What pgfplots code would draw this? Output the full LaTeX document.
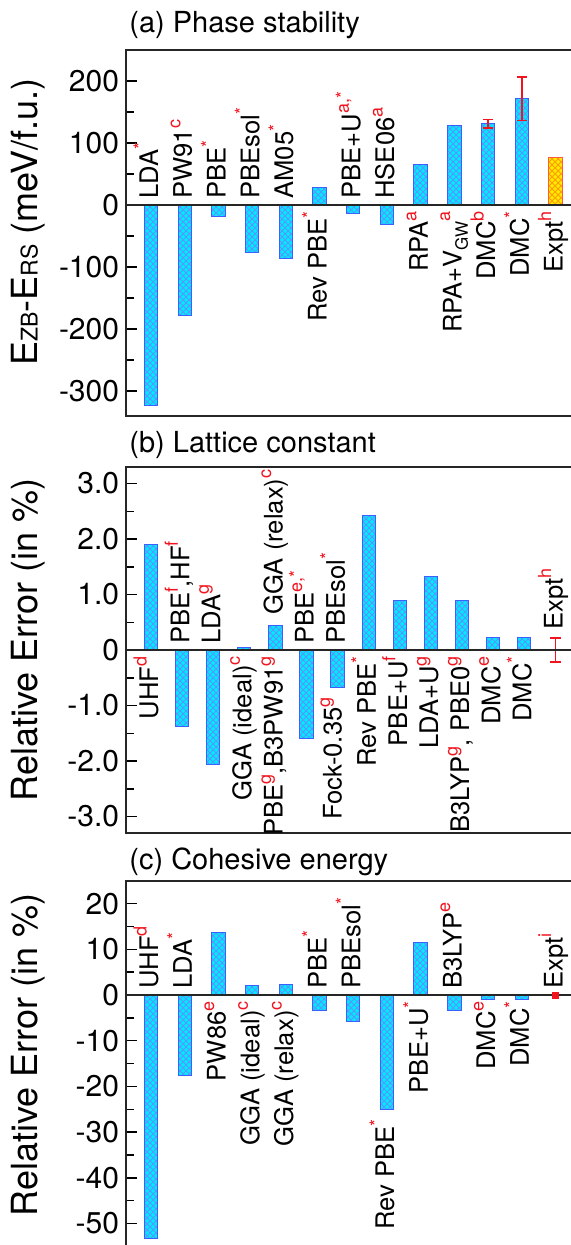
\documentclass[border=0pt]{standalone}
\usepackage{fontspec}
\setmainfont{TeX Gyre Heros}
\usepackage{pgfplots}
\pgfplotsset{compat=1.18}
\usetikzlibrary{patterns}
\definecolor{barcyan}{RGB}{0,235,255}
\definecolor{barblue}{RGB}{60,95,255}
\definecolor{hatch}{RGB}{85,150,255}
\definecolor{yel}{RGB}{255,235,0}
\definecolor{yelhatch}{RGB}{255,155,0}
\definecolor{yeledge}{RGB}{255,90,60}
\definecolor{sred}{RGB}{240,20,30}
\newcommand{\rs}[1]{\raisebox{0.45em}{\fontsize{9}{9}\selectfont\textcolor{sred}{#1}}}
\newcommand{\sub}[1]{\raisebox{-0.25em}{\fontsize{8.5}{8.5}\selectfont #1}}
\pgfplotsset{
  panel/.style={
    scale only axis, anchor=north west, clip=false,
    axis line style={line width=0.8pt, black!85},
    xtick=\empty, ytick pos=left, tick align=inside,
    major tick length=5.5pt, minor tick length=4pt,
    tick style={line width=0.7pt, black},
    /pgf/number format/assume math mode=true,
    tick label style={font=\fontsize{15}{15}\selectfont},
  },
  bars/.style={ybar, bar width=6.7pt, bar shift=0pt, fill=barcyan, draw=barblue, line width=0.5pt,
    postaction={pattern=crosshatch, pattern color=hatch}},
  ebar/.style={draw=sred, line width=0.8pt, mark=-, mark size=2.6pt, mark options={solid, draw=sred, line width=0.8pt}, forget plot},
  zline/.style={black!85, line width=0.7pt, mark=none, forget plot},
}
\tikzset{lab/.style={font=\fontsize{12.8}{12.8}\selectfont, rotate=90, inner xsep=3pt, inner ysep=0pt, text height=0.72em, text depth=0pt},
  ttl/.style={anchor=west, font=\fontsize{14.5}{14.5}\selectfont, inner sep=0pt},
  ylab/.style={rotate=90, anchor=center, font=\fontsize{18}{18}\selectfont}}
\newcommand{\up}[3][0]{\node[lab, anchor=west] at (axis cs:#2,#1) {#3};}
\newcommand{\dn}[3][0]{\node[lab, anchor=east] at (axis cs:#2,#1) {#3};}
\begin{document}
\begin{tikzpicture}
\path[use as bounding box] (0,0) rectangle (285.5pt,-622.5pt);
\clip (0,0) rectangle (285.5pt,-622.5pt);
\node[ttl] at (64.5pt,-12.5pt) {(a) Phase stability};
\node[ttl] at (64.5pt,-222.5pt) {(b) Lattice constant};
\node[ttl] at (64.5pt,-431pt) {(c) Cohesive energy};
% ---------- panel (a)
\begin{axis}[panel, at={(63.05pt,-25pt)}, width=226.45pt, height=182.9pt,
  xmin=-0.74, xmax=12.7, ymin=-340, ymax=250,
  ytick={-300,-200,-100,0,100,200}, minor y tick num=1,
  ylabel={E{\fontsize{11.5}{11.5}\selectfont ZB}-E{\fontsize{11.5}{11.5}\selectfont RS} (meV/f.u.)},
  every axis y label/.style={at={(axis description cs:-0.216,0.53)}, ylab}]
\addplot[bars] coordinates {(0,-323) (1,-179) (2,-19) (3,-77) (4,-87) (5,28) (6,-14) (7,-31) (8,66) (9,129) (10,131) (11,171)};
\addplot[ybar, bar width=6.7pt, bar shift=0pt, fill=yel, draw=yeledge, line width=0.5pt,
  postaction={pattern=crosshatch, pattern color=yelhatch}] coordinates {(12,77)};
\addplot[ebar] coordinates {(10,124) (10,138)};
\addplot[ebar] coordinates {(11,136) (11,206)};
\addplot[zline] coordinates {(-0.74,0) (12.7,0)};
\up{0}{LDA\rs{*}}
\up{1}{PW91\rs{c}}
\up{2}{PBE\rs{*}}
\up{3}{PBEsol\rs{*}}
\up{4}{AM05\rs{*}}
\dn{5}{Rev PBE\rs{*}}
\up{6}{PBE+U\rs{a,*}}
\up{7}{HSE06\rs{a}}
\dn{8}{RPA\rs{a}}
\dn{9}{RPA+V\sub{GW}\rs{a}}
\dn{10}{DMC\rs{b}}
\dn{11}{DMC\rs{*}}
\dn{12}{Expt\rs{h}}
\end{axis}
% ---------- panel (b)
\begin{axis}[panel, at={(63.05pt,-233.45pt)}, width=227.05pt, height=183.15pt,
  xmin=-0.8, xmax=13.8, ymin=-3.3, ymax=3.3,
  ytick={-3,-2,-1,0,1,2,3}, yticklabels={-3.0,-2.0,-1.0,0,1.0,2.0,3.0}, minor y tick num=1,
  ylabel={Relative Error (in \%)},
  every axis y label/.style={at={(axis description cs:-0.216,0.527)}, ylab}]
\addplot[bars] coordinates {(0,1.9) (1,-1.38) (2,-2.06) (3,0.05) (4,0.45) (5,-1.6) (6,-0.68) (7,2.42) (8,0.9) (9,1.33) (10,0.9) (11,0.22) (12,0.22)};
\addplot[ebar] coordinates {(13,-0.22) (13,0.22)};
\addplot[zline] coordinates {(-0.8,0) (13.8,0)};
\dn{0}{UHF\rs{d}}
\up{1}{PBE\rs{f},HF\rs{f}}
\up{2}{LDA\rs{g}}
\dn{3}{GGA (ideal)\rs{c}}
\up[0.52]{4}{GGA (relax)\rs{c}}
\dn{4}{PBE\rs{g},B3PW91\rs{g}}
\up{5}{PBE\rs{e,*}}
\up{6}{PBEsol\rs{*}}
\dn[-0.74]{5.9}{Fock-0.35\rs{g}}
\dn{7}{Rev PBE\rs{*}}
\dn{8}{PBE+U\rs{f}}
\dn{9}{LDA+U\rs{g}}
\dn{10}{B3LYP\rs{g}, PBE0\rs{g}}
\dn{11}{DMC\rs{e}}
\dn{12}{DMC\rs{*}}
\up[0.26]{13}{Expt\rs{h}}
\end{axis}
% ---------- panel (c)
\begin{axis}[panel, at={(63.05pt,-440.4pt)}, width=226.45pt, height=187.35pt,
  xmin=-0.74, xmax=12.7, ymin=-57, ymax=25,
  ytick={-50,-40,-30,-20,-10,0,10,20}, minor y tick num=1,
  ylabel={Relative Error (in \%)},
  every axis y label/.style={at={(axis description cs:-0.216,0.535)}, ylab}]
\addplot[bars] coordinates {(0,-53.3) (1,-17.7) (2,13.6) (3,2.1) (4,2.2) (5,-3.4) (6,-5.7) (7,-25) (8,11.4) (9,-3.3) (10,-1.0) (11,-1.0)};
\addplot[only marks, mark=square*, mark size=1.5pt, sred] coordinates {(12,0)};
\addplot[zline] coordinates {(-0.74,0) (12.7,0)};
\up{0}{UHF\rs{d}}
\up{1}{LDA\rs{*}}
\dn{2}{PW86\rs{e}}
\dn{3}{GGA (ideal)\rs{c}}
\dn{4}{GGA (relax)\rs{c}}
\up{5}{PBE\rs{*}}
\up{6}{PBEsol\rs{*}}
\dn[-25.8]{7}{Rev PBE\rs{*}}
\dn{8}{PBE+U\rs{*}}
\up{9}{B3LYP\rs{e}}
\dn{10}{DMC\rs{e}}
\dn{11}{DMC\rs{*}}
\up{12}{Expt\rs{i}}
\end{axis}
\end{tikzpicture}
\end{document}
